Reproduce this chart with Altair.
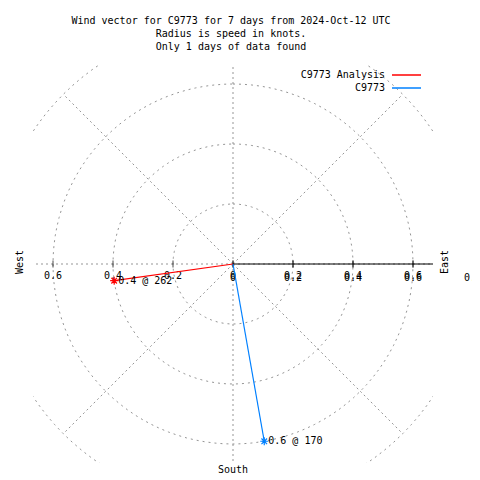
import altair as alt
import pandas as pd
import numpy as np

# ---- data ----
series_names = ["C9773 Analysis", "C9773"]
series_colors = ["#ff0000", "#0080ff"]
speeds = [0.4, 0.6]          # knots
directions = [262, 170]      # degrees

title_lines = [
    "Wind vector for C9773 for 7 days from 2024-Oct-12 UTC",
    "Radius is speed in knots.",
    "Only 1 days of data found",
]
x_tick_values = [-0.6, -0.4, -0.2, 0.0, 0.2, 0.4, 0.6]
r_tick_values = [0.0, 0.2, 0.4, 0.6, 0.8]
grid_radii = [0.2, 0.4, 0.6, 0.8]
spoke_angles = [0, 45, 90, 135, 180, 225, 270, 315]
spoke_length = 0.8
axis_names = ["West", "East", "South"]

FONT = "DejaVu Sans Mono"
GRID = "#959595"

xs = alt.Scale(domain=[-2 / 3, 2 / 3], nice=False, zero=False)
ys = alt.Scale(domain=[-199 / 300, 199 / 300], nice=False, zero=False)

# ---- tables ----
rad = np.deg2rad(directions)
vec = pd.DataFrame({
    "series": series_names,
    "speed": speeds,
    "dir": directions,
    "x0": [0.0] * len(speeds),
    "y0": [0.0] * len(speeds),
    "x": np.array(speeds) * np.sin(rad),
    "y": np.array(speeds) * np.cos(rad),
})
vec["label"] = [f"{s} @ {d}" for s, d in zip(speeds, directions)]

circ_rows = []
for r in grid_radii:
    for a in range(0, 361, 3):
        t = np.deg2rad(a)
        circ_rows.append({"r": r, "a": a, "x": r * np.sin(t), "y": r * np.cos(t)})
circ = pd.DataFrame(circ_rows)

sp = np.deg2rad(spoke_angles)
spokes = pd.DataFrame({
    "x0": 0.0, "y0": 0.0,
    "x": spoke_length * np.sin(sp),
    "y": spoke_length * np.cos(sp),
})

xt = pd.DataFrame({"v": x_tick_values, "lab": [f"{abs(v):g}" for v in x_tick_values]})
rt = pd.DataFrame({"v": r_tick_values, "lab": [f"{v:g}" for v in r_tick_values]})
one = pd.DataFrame({"a": [0]})

color_scale = alt.Scale(domain=series_names, range=series_colors)

# ---- layers ----
circles = alt.Chart(circ).mark_line(
    clip=True, color=GRID, strokeDash=[2, 4], strokeWidth=1
).encode(
    x=alt.X("x:Q", scale=xs, axis=None),
    y=alt.Y("y:Q", scale=ys, axis=None),
    detail="r:N",
    order="a:Q",
)

spoke_layer = alt.Chart(spokes).mark_rule(
    clip=True, color=GRID, strokeDash=[2, 3], strokeWidth=1
).encode(
    x=alt.X("x0:Q", scale=xs, axis=None), y=alt.Y("y0:Q", scale=ys, axis=None),
    x2="x:Q", y2="y:Q",
)

axis_line = alt.Chart(one).mark_rule(clip=True, color="black", strokeWidth=1).encode(
    x=alt.X(datum=0, scale=xs, axis=None), x2=alt.datum(1),
    y=alt.Y(datum=0, scale=ys, axis=None),
)

x_ticks = alt.Chart(xt).mark_tick(orient="vertical", size=7, thickness=1, color="black").encode(
    x=alt.X("v:Q", scale=xs, axis=None), y=alt.Y(datum=0, scale=ys, axis=None),
)
r_ticks = alt.Chart(rt).mark_tick(orient="vertical", size=7, thickness=1, color="black").encode(
    x=alt.X("v:Q", scale=xs, axis=None), y=alt.Y(datum=0, scale=ys, axis=None),
)

x_labels = alt.Chart(xt).mark_text(font=FONT, fontSize=10, dy=12, color="black").encode(
    x=alt.X("v:Q", scale=xs, axis=None), y=alt.Y(datum=0, scale=ys, axis=None), text="lab:N",
)
r_labels = alt.Chart(rt).mark_text(font=FONT, fontSize=10, dy=14, color="black").encode(
    x=alt.X("v:Q", scale=xs, axis=None), y=alt.Y(datum=0, scale=ys, axis=None), text="lab:N",
)

vectors = alt.Chart(vec).mark_rule(strokeWidth=1.2).encode(
    x=alt.X("x0:Q", scale=xs, axis=None), y=alt.Y("y0:Q", scale=ys, axis=None),
    x2="x:Q", y2="y:Q",
    color=alt.Color("series:N", scale=color_scale, legend=None),
)

star = "M-1,0L1,0M0,-1L0,1M-0.7,-0.7L0.7,0.7M-0.7,0.7L0.7,-0.7"
stars = alt.Chart(vec).mark_point(shape=star, filled=False, size=64, strokeWidth=1.2, opacity=1).encode(
    x=alt.X("x:Q", scale=xs, axis=None), y=alt.Y("y:Q", scale=ys, axis=None),
    color=alt.Color("series:N", scale=color_scale, legend=None),
)

vec_text = alt.Chart(vec).mark_text(font=FONT, fontSize=10, align="left", dx=4, color="black").encode(
    x=alt.X("x:Q", scale=xs, axis=None), y=alt.Y("y:Q", scale=ys, axis=None), text="label:N",
)

# key (legend) in the top-right corner, one row per series
key_layers = []
for i, (name, col) in enumerate(zip(series_names, series_colors)):
    yy = 10 + 13 * i
    key_layers.append(
        alt.Chart(one).mark_text(text=name, font=FONT, fontSize=10, align="right",
                                 baseline="middle", color="black").encode(
            x=alt.value(352), y=alt.value(yy))
    )
    key_layers.append(
        alt.Chart(one).mark_rule(color=col, strokeWidth=1.5).encode(
            x=alt.value(359), x2=alt.value(388), y=alt.value(yy))
    )

title = alt.Chart(one).mark_text(
    text=title_lines, font=FONT, fontSize=10, lineHeight=13, baseline="middle", color="black"
).encode(x=alt.value(198), y=alt.value(-44))

west = alt.Chart(one).mark_text(text=axis_names[0], font=FONT, fontSize=10, angle=270, color="black").encode(
    x=alt.value(-13), y=alt.value(197))
east = alt.Chart(one).mark_text(text=axis_names[1], font=FONT, fontSize=10, angle=270, color="black").encode(
    x=alt.value(412), y=alt.value(197))
south = alt.Chart(one).mark_text(text=axis_names[2], font=FONT, fontSize=10, color="black").encode(
    x=alt.value(200), y=alt.value(405))

chart = alt.layer(
    circles, spoke_layer, axis_line, x_ticks, r_ticks, x_labels, r_labels,
    vectors, stars, vec_text, *key_layers, title, west, east, south,
).properties(
    width=400, height=398,
    padding={"left": 25, "top": 57, "right": 39, "bottom": 17},
    autosize=alt.AutoSizeParams(type="none"),
).configure_view(stroke=None)

chart.save("out.html", embed_options={"renderer": "svg", "actions": False})
